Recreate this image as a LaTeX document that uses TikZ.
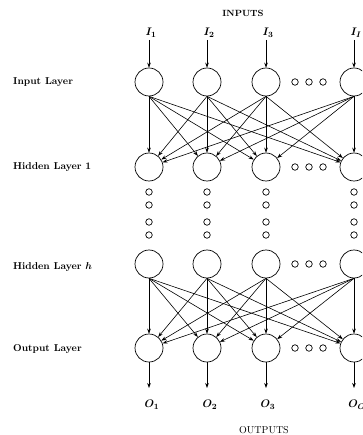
\documentclass[tikz,border=0pt]{standalone}
\usepackage{bm}
\usetikzlibrary{arrows.meta}
\begin{document}
\begin{tikzpicture}[x=1pt,y=-1pt,
  neuron/.style={circle,draw,line width=0.7pt,minimum size=28pt,inner sep=0pt},
  smalldot/.style={circle,draw,line width=0.7pt,minimum size=6.5pt,inner sep=0pt},
  conn/.style={line width=0.6pt,-{Stealth[length=5pt,width=3.6pt]}},
  layerlabel/.style={anchor=west,font=\fontsize{10}{12}\selectfont\bfseries,inner sep=0pt},
  iolabel/.style={font=\fontsize{11}{13}\selectfont\bfseries,inner sep=0pt}]
\useasboundingbox (0,0) rectangle (362,435);
\clip (0,0) rectangle (362,435);
% neurons and vertical ellipsis dots
\foreach \c/\x in {1/149,2/207,3/266,4/354}{
  \node[neuron] (in\c) at (\x,82) {};
  \node[neuron] (hida\c) at (\x,167) {};
  \node[neuron] (hidb\c) at (\x,264) {};
  \node[neuron] (out\c) at (\x,348) {};
  \foreach \k/\y in {1/192,2/205,3/222,4/235}{
    \node[smalldot] (vd\c\k) at (\x,\y) {};
  }
}
% horizontal ellipsis dots
\foreach \r/\y in {a/82,b/167,c/264,d/348}{
  \foreach \k/\x in {1/295,2/309,3/323}{
    \node[smalldot] (ed\r\k) at (\x,\y) {};
  }
}
% input labels
\node[iolabel] (I1) at (151,33) {$\bm{I_1}$};
\node[iolabel] (I2) at (209,33) {$\bm{I_2}$};
\node[iolabel] (I3) at (268,33) {$\bm{I_3}$};
\node[iolabel] (I4) at (356,33) {$\bm{I_I}$};
\foreach \c/\x in {1/149,2/207,3/266,4/354}{
  \coordinate (ti\c) at (\x,40);
  \draw[conn] (ti\c) -- (in\c.north);
  \coordinate (to\c) at (\x,388);
  \draw[conn] (out\c.south) -- (to\c);
}
% output labels
\node[iolabel] (O1) at (152,405) {$\bm{O_1}$};
\node[iolabel] (O2) at (210,405) {$\bm{O_2}$};
\node[iolabel] (O3) at (268,405) {$\bm{O_3}$};
\node[iolabel] (O4) at (357,405) {$\bm{O_O}$};
% full connections
\foreach \a in {1,...,4}{
  \foreach \b in {1,...,4}{
    \draw[conn] (in\a.south) -- (hida\b);
    \draw[conn] (hidb\a.south) -- (out\b);
  }
}
% titles
\node[font=\fontsize{9}{11}\selectfont\bfseries] (inputs) at (243,13) {INPUTS};
\node[font=\fontsize{10}{12}\selectfont] (outputs) at (264,430) {OUTPUTS};
% layer labels
\node[layerlabel] (l1) at (13,82) {Input Layer};
\node[layerlabel] (l2) at (13,167) {Hidden Layer 1};
\node[layerlabel] (l3) at (13,267) {Hidden Layer $\bm{h}$};
\node[layerlabel] (l4) at (13,349) {Output Layer};
\end{tikzpicture}
\end{document}
